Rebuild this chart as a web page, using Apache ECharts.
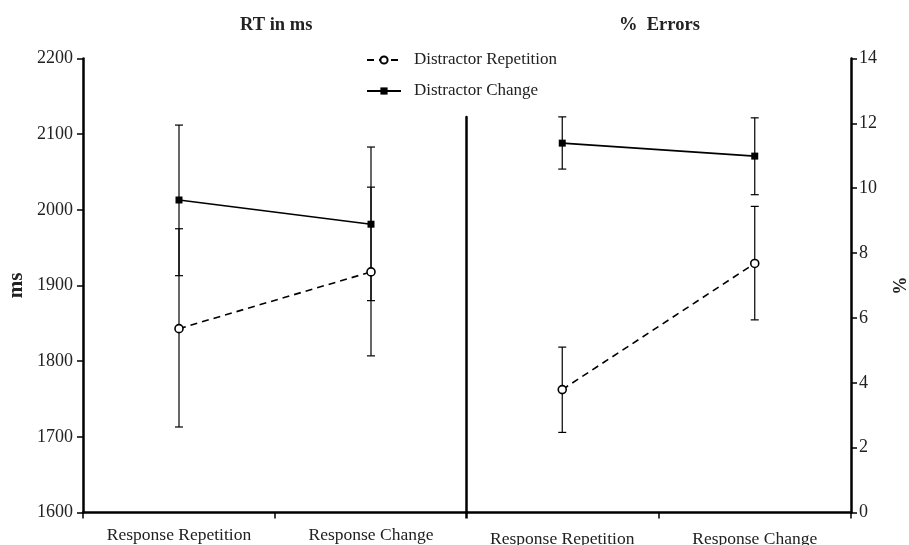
<!DOCTYPE html>
<html>
<head>
<meta charset="utf-8">
<script src="https://cdn.jsdelivr.net/npm/echarts@6/dist/echarts.min.js"></script>
<style>html,body{margin:0;padding:0;background:#fff}#c{width:909px;height:545px}</style>
</head>
<body>
<div id="c"></div>
<script>
const categories = ['Response Repetition', 'Response Change'];
const seriesNames = ['Distractor Repetition', 'Distractor Change'];
const panelTitles = ['RT in ms', '%  Errors'];
const rtTicks = [1600, 2200, 100];
const errTicks = [0, 14, 2];

// RT (ms)
const rtRep = [1843, 1918];
const rtRepLow = [1713, 1807];
const rtRepHigh = [1975, 2030];
const rtChg = [2013, 1981];
const rtChgLow = [1913, 1880];
const rtChgHigh = [2112, 2083];

// % Errors
const errRep = [3.79, 7.68];
const errRepLow = [2.47, 5.94];
const errRepHigh = [5.10, 9.44];
const errChg = [11.39, 10.99];
const errChgLow = [10.59, 9.80];
const errChgHigh = [12.20, 12.17];

const FONT = 'Liberation Serif';
const TXT = '#222';

function barData(low, high) {
  return low.map((l, i) => [i, l, high[i]]);
}
function renderErr(params, api) {
  const x = api.value(0);
  const pLo = api.coord([x, api.value(1)]);
  const pHi = api.coord([x, api.value(2)]);
  const w = 4;
  const st = { stroke: '#000', lineWidth: 1.2 };
  return {
    type: 'group',
    children: [
      { type: 'line', shape: { x1: pLo[0], y1: pLo[1], x2: pHi[0], y2: pHi[1] }, style: st },
      { type: 'line', shape: { x1: pLo[0] - w, y1: pLo[1], x2: pLo[0] + w, y2: pLo[1] }, style: st },
      { type: 'line', shape: { x1: pHi[0] - w, y1: pHi[1], x2: pHi[0] + w, y2: pHi[1] }, style: st }
    ]
  };
}
function errSeries(xi, low, high) {
  return {
    type: 'custom', xAxisIndex: xi, yAxisIndex: xi, z: 1, silent: true,
    renderItem: renderErr, encode: { x: 0, y: [1, 2] }, data: barData(low, high)
  };
}
function repSeries(xi, data) {
  return {
    name: seriesNames[0], type: 'line', xAxisIndex: xi, yAxisIndex: xi, z: 3,
    data: data, symbol: 'circle', symbolSize: 8,
    itemStyle: { color: '#fff', borderColor: '#000', borderWidth: 1.6 },
    lineStyle: { color: '#000', width: 1.6, type: [7, 5] }
  };
}
function chgSeries(xi, data) {
  return {
    name: seriesNames[1], type: 'line', xAxisIndex: xi, yAxisIndex: xi, z: 3,
    data: data, symbol: 'rect', symbolSize: 7,
    itemStyle: { color: '#000' },
    lineStyle: { color: '#000', width: 1.6, type: 'solid' }
  };
}
const axisLine = { show: true, lineStyle: { color: '#000', width: 2.5 } };
const axisTick = { show: true, length: 6, inside: false, lineStyle: { color: '#000', width: 1.5 } };
const plain = v => String(v);

function xAxisCfg(gi, margin) {
  return {
    type: 'category', gridIndex: gi, data: categories, boundaryGap: true,
    axisLine: axisLine, axisTick: axisTick,
    axisLabel: { color: TXT, fontFamily: FONT, fontSize: 17.5, margin: margin, interval: 0 },
    splitLine: { show: false }
  };
}

const chart = echarts.init(document.getElementById('c'), null, { renderer: 'canvas' });
chart.setOption({
  animation: false,
  backgroundColor: '#fff',
  title: [
    { text: panelTitles[0], left: 240, top: 16, padding: 0,
      textStyle: { fontFamily: FONT, fontWeight: 'bold', fontSize: 18.5, color: TXT } },
    { text: panelTitles[1], left: 619, top: 16, padding: 0,
      textStyle: { fontFamily: FONT, fontWeight: 'bold', fontSize: 18.5, color: TXT } }
  ],
  legend: {
    data: seriesNames, orient: 'vertical', left: 366, top: 50,
    itemWidth: 34, itemHeight: 9, itemGap: 11, padding: 0,
    textStyle: { fontFamily: FONT, fontSize: 17, color: TXT, lineHeight: 20, padding: [0, 0, 0, 8] }
  },
  grid: [
    { left: 83, width: 384, top: 58.5, bottom: 32.5, outerBoundsMode: 'none', containLabel: false },
    { left: 466, width: 385, top: 58.5, bottom: 32.5, outerBoundsMode: 'none', containLabel: false },
    { left: 466, width: 10, top: 117, bottom: 32.5, outerBoundsMode: 'none', containLabel: false }
  ],
  xAxis: [
    xAxisCfg(0, 14),
    xAxisCfg(1, 18),
    { type: 'value', gridIndex: 2, show: false }
  ],
  yAxis: [
    { type: 'value', gridIndex: 0, min: rtTicks[0], max: rtTicks[1], interval: rtTicks[2],
      axisLine: axisLine, axisTick: axisTick, splitLine: { show: false },
      axisLabel: { color: TXT, fontFamily: FONT, fontSize: 18, margin: 10, formatter: plain },
      name: 'ms', nameLocation: 'middle', nameGap: 56,
      nameTextStyle: { fontFamily: FONT, fontWeight: 'bold', fontSize: 21, color: TXT } },
    { type: 'value', gridIndex: 1, position: 'right', min: errTicks[0], max: errTicks[1], interval: errTicks[2],
      axisLine: axisLine, axisTick: axisTick, splitLine: { show: false },
      axisLabel: { color: TXT, fontFamily: FONT, fontSize: 18, margin: 8, formatter: plain },
      name: '%', nameLocation: 'middle', nameGap: 38, nameRotate: -90,
      nameTextStyle: { fontFamily: FONT, fontWeight: 'bold', fontSize: 18, color: TXT } },
    { type: 'value', gridIndex: 2, min: 0, max: 1, position: 'left',
      axisLine: axisLine, axisTick: { show: false }, axisLabel: { show: false }, splitLine: { show: false } }
  ],
  series: [
    repSeries(0, rtRep),
    chgSeries(0, rtChg),
    repSeries(1, errRep),
    chgSeries(1, errChg),
    errSeries(0, rtRepLow, rtRepHigh),
    errSeries(0, rtChgLow, rtChgHigh),
    errSeries(1, errRepLow, errRepHigh),
    errSeries(1, errChgLow, errChgHigh)
  ]
});
</script>
</body>
</html>
